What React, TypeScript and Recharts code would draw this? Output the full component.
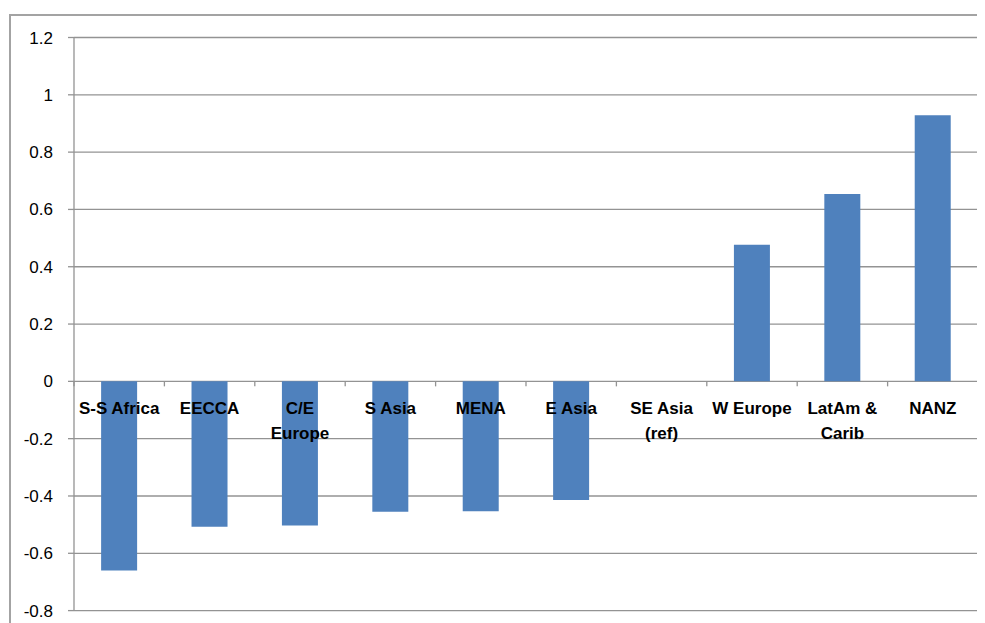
import React from "react";
import { BarChart, Bar, YAxis, XAxis, CartesianGrid, ReferenceDot } from "recharts";

const categories = [
  "S-S Africa",
  "EECCA",
  "C/E\nEurope",
  "S Asia",
  "MENA",
  "E Asia",
  "SE Asia\n(ref)",
  "W Europe",
  "LatAm &\nCarib",
  "NANZ",
];
const values = [-0.66, -0.507, -0.503, -0.455, -0.453, -0.414, 0, 0.477, 0.654, 0.929];
const yTicks = [-0.8, -0.6, -0.4, -0.2, 0, 0.2, 0.4, 0.6, 0.8, 1, 1.2];

const data = categories.map((name, i) => ({ name, value: values[i] }));

const GRID = "#939393";
const FONT = "'Liberation Sans', Arial, sans-serif";
const CHART_W = 977;
const MARGIN = { top: 29.5, right: 7, bottom: 12.4, left: 0 };
const Y_W = 66;
const BAND = (CHART_W - MARGIN.right - MARGIN.left - Y_W) / categories.length;

const makeLabel = (idx: number) => (props: any) => {
  const cx = Number(props.cx);
  const cy = Number(props.cy);
  const lines = categories[idx].split("\n");
  const left = cx - BAND / 2;
  const right = cx + BAND / 2;
  return (
    <g>
      <line x1={left} x2={left} y1={cy} y2={cy + 5} stroke={GRID} strokeWidth={1.3} />
      {idx === categories.length - 1 && (
        <line x1={right} x2={right} y1={cy} y2={cy + 5} stroke={GRID} strokeWidth={1.3} />
      )}
      <text
        x={cx}
        y={cy + 27}
        textAnchor="middle"
        fontFamily={FONT}
        fontWeight="bold"
        fontSize={17}
        fill="#000"
      >
        {lines.map((ln, i) => (
          <tspan key={i} x={cx} dy={i === 0 ? "0.35em" : 25}>
            {ln}
          </tspan>
        ))}
      </text>
    </g>
  );
};

export default function App() {
  return (
    <div style={{ position: "relative", width: 977, height: 615, overflow: "hidden", background: "#fff" }}>
      <div
        style={{
          position: "absolute",
          left: 1,
          top: 6,
          width: 1200,
          height: 800,
          borderTop: "2px solid #a3a3a3",
          borderLeft: "2px solid #a3a3a3",
          boxSizing: "border-box",
        }}
      />
      <div style={{ position: "absolute", left: 0, top: 0 }}>
        <BarChart width={CHART_W} height={615} data={data} margin={MARGIN} barCategoryGap="30%">
          <CartesianGrid vertical={false} stroke={GRID} strokeWidth={1.3} />
          <XAxis dataKey="name" hide />
          <YAxis
            width={Y_W}
            domain={[-0.8, 1.2]}
            ticks={yTicks}
            interval={0}
            tickFormatter={(v: number) => String(Math.round(v * 10) / 10)}
            tickSize={6}
            tickMargin={15}
            axisLine={{ stroke: GRID, strokeWidth: 1.3 }}
            tickLine={{ stroke: GRID, strokeWidth: 1.3 }}
            tick={{ fill: "#000", fontSize: 17, fontFamily: FONT }}
            allowDataOverflow
          />
          <Bar dataKey="value" fill="#4F81BD" isAnimationActive={false} />
          {categories.map((c, i) => (
            <ReferenceDot key={c} x={c} y={0} r={0} ifOverflow="visible" shape={makeLabel(i)} />
          ))}
        </BarChart>
      </div>
    </div>
  );
}
